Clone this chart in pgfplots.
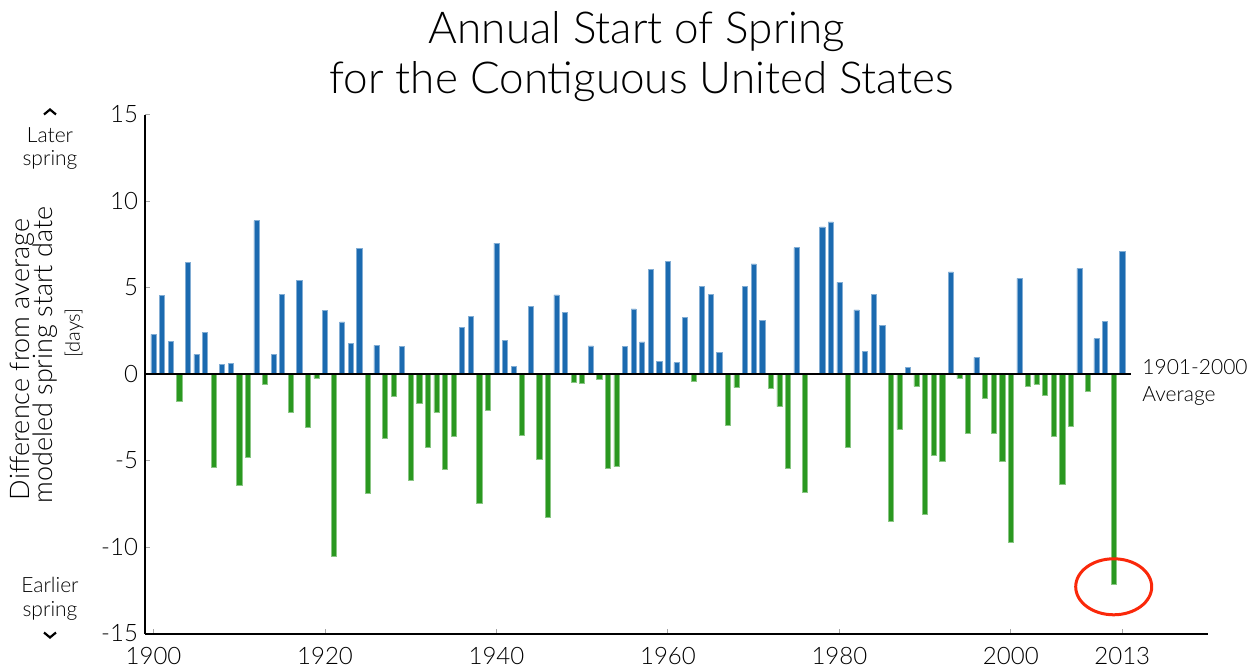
\documentclass[border=0pt]{standalone}
\usepackage{pgfplots}
\pgfplotsset{compat=1.18}
\usepackage{fontspec}
\setmainfont{Lato Light}
\definecolor{barblue}{RGB}{27,106,176}
\definecolor{bargreen}{RGB}{42,152,32}
\definecolor{circred}{RGB}{250,40,10}
\begin{document}
\begin{tikzpicture}
\path[use as bounding box] (-72.5pt,-18.75pt) rectangle (552pt,316.75pt);
\begin{axis}[
  at={(0pt,0pt)}, anchor=south west,
  scale only axis, width=531.5pt, height=259.5pt,
  xmin=1899, xmax=2023, ymin=-15, ymax=15,
  axis x line=bottom, axis y line=left,
  axis line style={-, line width=1pt, black},
  xtick={1900,1920,1940,1960,1980,2000,2013},
  ytick={-15,-10,-5,0,5,10,15},
  tick align=inside, major tick length=2.5pt,
  tick style={gray!70, line width=0.5pt},
  xticklabel style={/pgf/number format/1000 sep={}, yshift=-3.5pt},
  /pgf/number format/assume math mode=true,
  ticklabel style={font=\fontsize{12}{14}\selectfont},
  clip=false,
]
\addplot[ybar, bar width=0.6, bar shift=0pt, fill=barblue, draw=barblue!55!white, line width=0.3pt] coordinates {
(1900,2.29) (1901,4.55) (1902,1.87) (1904,6.44) (1905,1.14) (1906,2.41)
(1908,0.56) (1909,0.62) (1912,8.86) (1914,1.12) (1915,4.60) (1917,5.39)
(1920,3.68) (1922,3.01) (1923,1.77) (1924,7.24) (1926,1.66) (1929,1.58)
(1936,2.68) (1937,3.31) (1940,7.57) (1941,1.93) (1942,0.44) (1944,3.91)
(1947,4.57) (1948,3.55) (1951,1.62) (1955,1.58) (1956,3.76) (1957,1.85)
(1958,6.05) (1959,0.75) (1960,6.53) (1961,0.66) (1962,3.28) (1964,5.07)
(1965,4.60) (1966,1.25) (1969,5.05) (1970,6.36) (1971,3.08) (1975,7.30)
(1978,8.50) (1979,8.79) (1980,5.30) (1982,3.70) (1983,1.31) (1984,4.60)
(1985,2.79) (1988,0.39) (1993,5.90) (1996,0.96) (2001,5.53) (2008,6.11)
(2010,2.04) (2011,3.04) (2013,7.09)
};
\addplot[ybar, bar width=0.6, bar shift=0pt, fill=bargreen, draw=bargreen!55!white, line width=0.3pt] coordinates {
(1903,-1.60) (1907,-5.38) (1910,-6.44) (1911,-4.80) (1913,-0.60) (1916,-2.22)
(1918,-3.08) (1919,-0.25) (1921,-10.52) (1925,-6.90) (1927,-3.74) (1928,-1.31)
(1930,-6.13) (1931,-1.71) (1932,-4.26) (1933,-2.22) (1934,-5.51) (1935,-3.58)
(1938,-7.50) (1939,-2.12) (1943,-3.53) (1945,-4.91) (1946,-8.29) (1949,-0.46)
(1950,-0.52) (1952,-0.33) (1953,-5.43) (1954,-5.36) (1963,-0.40) (1967,-2.97)
(1968,-0.79) (1972,-0.83) (1973,-1.89) (1974,-5.43) (1976,-6.82) (1981,-4.22)
(1986,-8.50) (1987,-3.22) (1989,-0.71) (1990,-8.09) (1991,-4.72) (1992,-5.03)
(1994,-0.27) (1995,-3.45) (1997,-1.39) (1998,-3.43) (1999,-5.07) (2000,-9.75)
(2002,-0.69) (2003,-0.58) (2004,-1.21) (2005,-3.60) (2006,-6.38) (2007,-3.01)
(2009,-0.98) (2012,-12.16)
};
\draw[black, line width=1pt] (axis cs:1899,0) -- (axis cs:2014,0);
\draw[circred, line width=1.5pt] (axis cs:2012,-12.3) ellipse [x radius=19pt, y radius=14pt];
\end{axis}
% title
\node[font=\fontsize{22}{26}\selectfont] at (246pt,300.75pt) {Annual Start of Spring};
\node[font=\fontsize{22}{26}\selectfont] at (248.5pt,275.75pt) {for the Contiguous United States};
% y label
\node[rotate=90, font=\fontsize{13.5}{15}\selectfont] at (-61.5pt,137pt) {Difference from average};
\node[rotate=90, font=\fontsize{13.5}{15}\selectfont] at (-50pt,139.25pt) {modeled spring start date};
\node[rotate=90, font=\fontsize{10}{12}\selectfont] at (-35.5pt,150.25pt) {[days]};
% later / earlier
\node[font=\fontsize{10.5}{12}\selectfont] at (-47.5pt,249.25pt) {Later};
\node[font=\fontsize{10.5}{12}\selectfont] at (-47.5pt,236.75pt) {spring};
\draw[line width=1.1pt] (-50.5pt,259.5pt) -- (-47.5pt,262pt) -- (-44.5pt,259.5pt);
\node[font=\fontsize{10.5}{12}\selectfont] at (-47.5pt,24.25pt) {Earlier};
\node[font=\fontsize{10.5}{12}\selectfont] at (-47.5pt,11.25pt) {spring};
\draw[line width=1.1pt] (-50.5pt,0.5pt) -- (-47.5pt,-2pt) -- (-44.5pt,0.5pt);
% average label
\node[anchor=west, font=\fontsize{10.5}{12}\selectfont, inner sep=0pt] at (498.5pt,133.25pt) {1901-2000};
\node[anchor=west, font=\fontsize{10.5}{12}\selectfont, inner sep=0pt] at (498.5pt,118.75pt) {Average};
\end{tikzpicture}
\end{document}
